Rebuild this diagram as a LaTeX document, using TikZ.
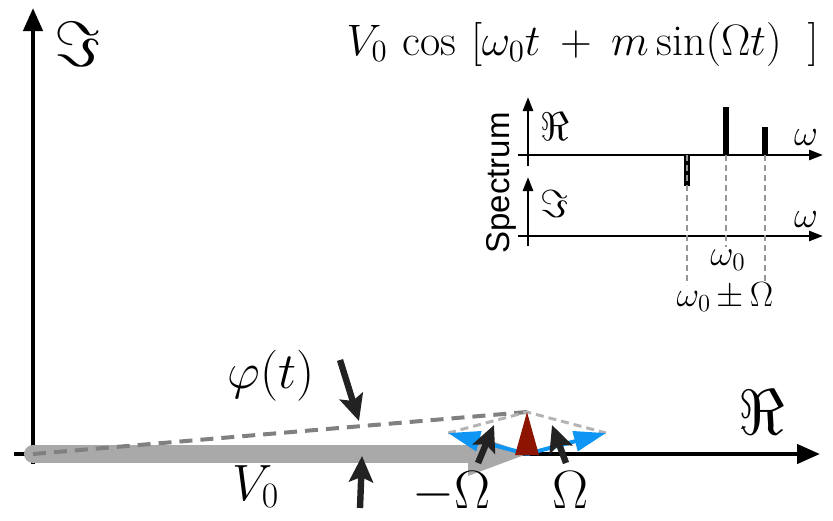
\RequirePackage{fix-cm}
\documentclass[tikz,border=0pt]{standalone}
\usepackage{fontspec}
\newfontfamily\specfont{Liberation Sans}
\usetikzlibrary{arrows.meta}
\definecolor{barGray}{RGB}{169,169,169}
\definecolor{dashDark}{RGB}{128,128,128}
\definecolor{dashLight}{RGB}{180,180,180}
\definecolor{sideBlue}{RGB}{15,150,245}
\definecolor{sumRed}{RGB}{140,20,0}
\definecolor{annBlack}{RGB}{34,34,34}
\definecolor{guideGray}{RGB}{150,150,150}
\newcommand\fsz[1]{\fontsize{#1}{#1}\selectfont}
\begin{document}
\begin{tikzpicture}[x=0.5pt,y=-0.5pt,
  mainaxis/.style={line width=2.2pt,-{Triangle[length=11.5pt,width=9.5pt]}},
  insetaxis/.style={line width=1.3pt,-{Triangle[length=7pt,width=5pt]}},
  annarrow/.style={annBlack,line width=3.2pt,-{Stealth[length=13pt,width=12pt,inset=2.5pt]}},
  sideband/.style={sideBlue,line width=2pt,-{Triangle[length=16pt,width=10pt]}},
  guide/.style={guideGray,line width=1pt,dash pattern=on 3pt off 2pt},
  paradash/.style={dashLight,line width=1.5pt,dash pattern=on 4pt off 2.5pt},
  resdash/.style={dashDark,line width=2pt,dash pattern=on 6.5pt off 4pt},
  lbl/.style={inner sep=0pt,anchor=base}]
\useasboundingbox (0,0) rectangle (833,520);
% key points
\coordinate (O) at (33,454);
\coordinate (vbot) at (33,464);
\coordinate (vtop) at (33,8);
\coordinate (hleft) at (14,454);
\coordinate (hright) at (820,454);
\coordinate (barend) at (475,454);
\coordinate (T) at (527,454);
\coordinate (A) at (527,412);
\coordinate (L) at (448,433);
\coordinate (R) at (606,433);
% main axes
\draw[mainaxis] (vbot) -- (vtop);
\draw[mainaxis] (hleft) -- (hright);
% gray V0 phasor
\draw[barGray,line width=9pt,line cap=round] (O) -- (barend);
\fill[barGray] (468,432) -- (T) -- (468,476) -- cycle;
% resultant and parallelogram
\draw[resdash] (O) -- (A);
\draw[paradash] (L) -- (A) -- (R);
% sidebands
\draw[sideband] (T) -- (L);
\draw[sideband] (T) -- (R);
% sum of sidebands
\fill[sumRed] (515,455) -- (539,455) -- (A) -- cycle;
% annotation arrows
\coordinate (phiS) at (340,360); \coordinate (phiE) at (359,421);
\coordinate (vS) at (360,508);   \coordinate (vE) at (362,456);
\coordinate (mS) at (478,463);   \coordinate (mE) at (494,425);
\coordinate (pS) at (566,463);   \coordinate (pE) at (552,425);
\draw[annarrow] (phiS) -- (phiE);
\draw[annarrow] (vS) -- (vE);
\draw[annarrow] (mS) -- (mE);
\draw[annarrow] (pS) -- (pE);
% main labels
\node[lbl] (imlab) at (78,66) {\fsz{32}$\Im$};
\node[lbl] (relab) at (762,434) {\fsz{32}$\Re$};
\node[lbl,anchor=base east] (title) at (819,55) {\fsz{22}$V_0\,\cos\,\left[\omega_0 t\mathbin{\mkern4mu+\mkern4mu} m\sin(\Omega t)\hspace{13pt}\right]$};
\node[lbl] (philab) at (271,388) {\fsz{25.5}$\varphi(t)$};
\node[lbl] (vlab) at (256,500) {\fsz{25.5}$V_0$};
\node[lbl] (mlab) at (452,508) {\fsz{27}$-\Omega$};
\node[lbl] (plab) at (571,508) {\fsz{27}$\Omega$};
% inset spectrum
\coordinate (uvb) at (528,166); \coordinate (uvt) at (528,97);
\coordinate (uhl) at (518,155); \coordinate (uhr) at (823,155);
\coordinate (lvb) at (528,246); \coordinate (lvt) at (528,177);
\coordinate (lhl) at (518,236); \coordinate (lhr) at (823,236);
\draw[insetaxis] (uvb) -- (uvt);
\draw[insetaxis] (uhl) -- (uhr);
\draw[insetaxis] (lvb) -- (lvt);
\draw[insetaxis] (lhl) -- (lhr);
\fill (723,155) rectangle (729,107);
\fill (762,155) rectangle (768,127);
\fill (684,155) rectangle (690,186);
\coordinate (g1a) at (687,155); \coordinate (g1b) at (687,285);
\coordinate (g2a) at (726,155); \coordinate (g2b) at (726,247);
\coordinate (g3a) at (765,155); \coordinate (g3b) at (765,285);
\draw[guide] (g1a) -- (g1b);
\draw[guide] (g2a) -- (g2b);
\draw[guide] (g3a) -- (g3b);
\node[lbl] (ire) at (555,140) {\fsz{20}$\Re$};
\node[lbl] (iim) at (555,217) {\fsz{19.5}$\Im$};
\node[lbl] (w1) at (806,145) {\fsz{18.5}$\omega$};
\node[lbl] (w2) at (806,227) {\fsz{18.5}$\omega$};
\node[lbl] (w0) at (728,265) {\fsz{18}$\omega_0$};
\node[lbl] (wpm) at (725,306) {\fsz{17.5}$\omega_0\mkern3mu{\pm}\,\Omega$};
\node[inner sep=0pt,rotate=90] (spec) at (501,183) {\specfont\fsz{16.5}Spectrum};
\end{tikzpicture}
\end{document}
